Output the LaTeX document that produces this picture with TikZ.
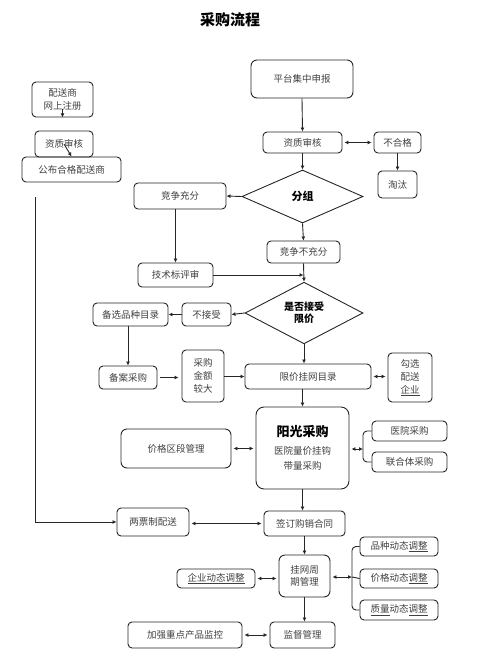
\documentclass[tikz,border=0pt]{standalone}
\usepackage{fontspec}
\setmainfont{Noto Sans CJK SC}
\usetikzlibrary{arrows.meta,shapes.geometric}

\tikzset{
  box/.style={draw=black!85, line width=0.9pt, rounded corners=4pt, inner sep=0pt,
    align=center, text=black!75, font=\fontsize{9.5}{12.8}\selectfont},
  dia/.style={draw=black!85, line width=0.9pt, diamond, inner sep=0pt, align=center,
    font=\fontsize{10}{12}\selectfont\bfseries},
  arr/.style={draw=black!85, line width=0.9pt, -{Latex[length=4pt,width=4pt]}},
  darr/.style={draw=black!85, line width=0.9pt, {Latex[length=4pt,width=4pt]}-{Latex[length=4pt,width=4pt]},
    shorten <=2pt, shorten >=2pt},
  brace/.style={draw=black!85, line width=0.9pt, rounded corners=4pt}
}

\begin{document}
\begin{tikzpicture}[x=1pt,y=-1pt]
  \useasboundingbox (0,0) rectangle (483,664);
  \node (title) at (230,20) [font=\fontsize{15}{15}\selectfont\bfseries] {采购流程};

  % 左边: 配送商
  \node (reg) at (62.5,99.5) [box, minimum width=61, minimum height=35] {配送商\\网上注册};
  \node (qualL) at (64,144) [box, minimum width=58, minimum height=26] {资质审核};
  \node (pub) at (71.5,169.5) [box, minimum width=99, minimum height=25] {公布合格配送商};
  \coordinate (lt) at (35,197);

  % 右边: 申报与分组
  \node (plat) at (302,79) [box, minimum width=102, minimum height=38, rounded corners=6pt] {平台集中申报};
  \node (qualR) at (302.5,142.5) [box, minimum width=79, minimum height=21] {资质审核};
  \node (fail) at (397.5,142.5) [box, minimum width=47, minimum height=21] {不合格};
  \node (out) at (397.5,184.5) [box, minimum width=39, minimum height=27] {淘汰};
  \node (group) at (302.5,196.5) [dia, minimum width=121, minimum height=53, font=\fontsize{11}{12}\selectfont\bfseries] {分组};
  \node (comp) at (180,196) [box, minimum width=92, minimum height=26] {竞争充分};
  \node (nocomp) at (303.5,252) [box, minimum width=73, minimum height=22] {竞争不充分};
  \node (tech) at (175.5,275) [box, minimum width=75, minimum height=24] {技术标评审};

  % 是否接受限价
  \node (accept) at (304,313) [dia, minimum width=118, minimum height=56] {是否接受\\限价};
  \node (rej) at (206.5,314.5) [box, minimum width=49, minimum height=23] {不接受};
  \node (alt) at (130.5,314.5) [box, minimum width=75, minimum height=23] {备选品种目录};
  \node (rec) at (128,377.5) [box, minimum width=58, minimum height=23] {备案采购};
  \node (big) at (203,376) [box, minimum width=42, minimum height=52] {采购\\金额\\较大};
  \node (cat) at (308,376.5) [box, minimum width=126, minimum height=25] {限价挂网目录};
  \node (pick) at (410,377.5) [box, minimum width=44, minimum height=49] {勾选\\配送\\\underline{企业}};

  % 阳光采购
  \node (sun) at (302.5,448) [box, minimum width=93, minimum height=82, rounded corners=8pt]
    {{\fontsize{13}{13}\selectfont\bfseries\color{black} 阳光采购}\\[5pt]医院量价挂钩\\[3pt]带量采购};
  \node (zone) at (176,448.5) [box, minimum width=110, minimum height=39, rounded corners=6pt] {价格区段管理};
  \node (hosp) at (409.5,431) [box, minimum width=75, minimum height=20] {医院采购};
  \node (union) at (409.5,462) [box, minimum width=75, minimum height=20] {联合体采购};
  \coordinate (br1) at (363,449);

  % 合同与周期管理
  \node (contract) at (304.5,523.5) [box, minimum width=81, minimum height=25] {签订购销合同};
  \node (two) at (153,522) [box, minimum width=72, minimum height=28] {两票制配送};
  \node (cycle) at (304.5,576) [box, minimum width=51, minimum height=42, rounded corners=6pt] {挂网周\\期管理};
  \node (ent) at (216,578.5) [box, minimum width=78, minimum height=19] {\underline{企业动态调整}};
  \node (kind) at (399,546.5) [box, minimum width=78, minimum height=19] {品种动态\underline{调整}};
  \node (price) at (399,578.5) [box, minimum width=78, minimum height=19] {价格动态\underline{调整}};
  \node (quality) at (399,610) [box, minimum width=78, minimum height=20] {\underline{质量}动态\underline{调整}};
  \coordinate (br2) at (352,577);
  \node (super) at (302.5,635) [box, minimum width=65, minimum height=26] {监督管理};
  \node (focus) at (185,635) [box, minimum width=114, minimum height=26] {加强重点产品监控};

  % 连线
  \draw[arr] ([yshift=8pt]reg.south) -- (reg.south);
  \draw[arr] (qualL.center) -- (pub.north);
  \draw[arr] (lt) |- (two.west);

  \draw[arr] (plat.south) -- (qualR.north);
  \draw[darr] (qualR.east) -- (fail.west);
  \draw[arr] (fail.south) -- (out.north);
  \draw[arr] (qualR.south) -- (group.north);
  \draw[arr] (group.west) -- (comp.east);
  \draw[arr] (group.south) -- (nocomp.north);
  \draw[arr] (tech.north |- comp.south) -- (tech.north);
  \draw[arr] (tech.east) -- (tech.east -| nocomp.south);
  \draw[arr] (nocomp.south) -- (accept.north);

  \draw[arr] (accept.west) -- (rej.east);
  \draw[arr] (rej.west) -- (alt.east);
  \draw[arr] (rec.north |- alt.south) -- (rec.north);
  \draw[arr, shorten <=3pt, shorten >=3pt] (rec.east) -- (rec.east -| big.west);
  \draw[arr] (big.east |- cat.west) -- (cat.west);
  \draw[arr] (accept.south) -- (accept.south |- cat.north);
  \draw[darr] (cat.east) -- (cat.east -| pick.west);

  \draw[arr] (sun.north |- cat.south) -- (sun.north);
  \draw[darr] (zone.east) -- (zone.east -| sun.west);
  \draw[darr, shorten >=0pt] (sun.east |- br1) -- (br1);
  \draw[brace] (hosp.west) -| (br1) |- (union.west);

  \draw[arr] (sun.south) -- (sun.south |- contract.north);
  \draw[darr] (two.east |- contract.west) -- (contract.west);
  \draw[arr] (contract.south -| cycle.north) -- (cycle.north);
  \draw[darr] (ent.east) -- (ent.east -| cycle.west);
  \draw[darr, shorten >=0pt] (cycle.east |- br2) -- (br2);
  \draw[brace] (kind.west) -| (br2) |- (quality.west);
  \draw[brace] (br2) -- (price.west);
  \draw[arr] (cycle.south) -- (cycle.south |- super.north);
  \draw[darr] (focus.east) -- (super.west);
\end{tikzpicture}
\end{document}
